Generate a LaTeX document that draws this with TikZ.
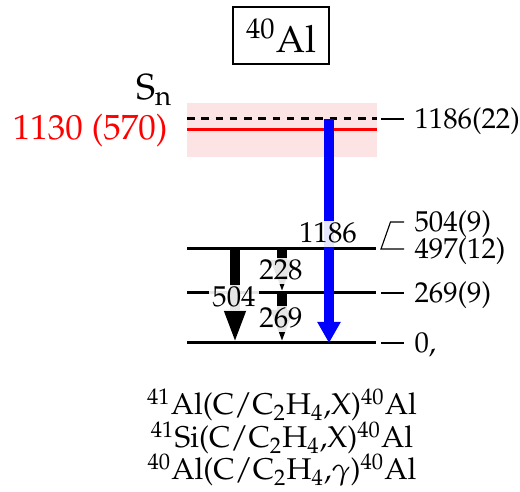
\documentclass[tikz,border=0pt]{standalone}
\usepackage[T1]{fontenc}
\usepackage{mathpazo}
\usetikzlibrary{arrows.meta}
\definecolor{snband}{HTML}{FDE4E4}
\tikzset{
  lvl/.style={line width=1.2pt},
  tick/.style={line width=0.45pt},
  gline/.style={line width=3.8pt,-{Triangle[width=8pt,length=13.2pt]}},
  eline/.style={line width=3.8pt,blue,-{Triangle[width=8.8pt,length=8.4pt]}},
  glab/.style={fill=white,fill opacity=0.9,text opacity=1,inner xsep=1.5pt,inner ysep=1pt,text depth=0.6pt,anchor=base,font=\fontsize{11.5}{13}\selectfont},
  elab/.style={anchor=base west,inner sep=0pt,font=\fontsize{11.5}{13}\selectfont},
}
\begin{document}
\begin{tikzpicture}[x=0.4pt,y=-0.4pt]
\useasboundingbox (0,0) rectangle (520,492);
\node[draw,line width=0.5pt,minimum width=38.4pt,minimum height=22.8pt,font=\fontsize{15}{18}\selectfont] (title) at (281,35.5) {$^{40}$Al};
\fill[snband] (187,103) rectangle (377,157);
\coordinate (snl) at (187,119);
\coordinate (snr) at (377,119);
\coordinate (rl) at (187,130);
\coordinate (rr) at (377,130);
\draw[lvl,dash pattern=on 3pt off 2.7pt] (snl) -- (snr);
\draw[lvl,red] (rl) -- (rr);
\node[anchor=base east,inner sep=0pt,font=\fontsize{14.5}{17}\selectfont] (sn) at (173,100) {S$_\mathrm{n}$};
\node[anchor=base east,inner sep=0pt,red,font=\fontsize{14}{17}\selectfont] (snval) at (168,140) {1130 (570)};
\foreach \n/\y in {0/343,269/293,497/249} {
  \coordinate (l\n-a) at (187,\y);
  \coordinate (l\n-b) at (376,\y);
  \draw[lvl] (l\n-a) -- (l\n-b);
}
\coordinate (t1186a) at (381,119);
\coordinate (t1186b) at (404,119);
\draw[tick] (t1186a) -- (t1186b);
\node[elab] (e1186) at (414,129) {1186(22)};
\coordinate (t497a) at (381,249);
\coordinate (t497b) at (404,249);
\coordinate (t504m) at (390.5,222);
\coordinate (t504b) at (404,222);
\draw[tick] (t497b) -- (t497a) -- (t504m) -- (t504b);
\node[elab] (e504) at (414,232) {504(9)};
\node[elab] (e497) at (414,259) {497(12)};
\coordinate (t269a) at (381,293);
\coordinate (t269b) at (404,293);
\draw[tick] (t269a) -- (t269b);
\node[elab] (e269) at (414,303) {269(9)};
\coordinate (t0a) at (381,343);
\coordinate (t0b) at (404,343);
\draw[tick] (t0a) -- (t0b);
\node[elab] (e0) at (414,353) {0,};
\coordinate (g504a) at (235,249);
\coordinate (g504b) at (235,343);
\coordinate (g228a) at (282,249);
\coordinate (g228b) at (282,293);
\coordinate (g269a) at (282,293);
\coordinate (g269b) at (282,343);
\coordinate (g1186a) at (329,119);
\coordinate (g1186b) at (329,343);
\draw[gline] (g504a) -- (g504b);
\draw[gline] (g228a) -- (g228b);
\draw[gline] (g269a) -- (g269b);
\draw[eline] (g1186a) -- (g1186b);
\node[glab] (lab1186) at (328,243) {1186};
\node[glab] (lab504) at (234,307) {504};
\node[glab] (lab228) at (281,280) {228};
\node[glab] (lab269) at (281,328) {269};
\node[anchor=base,font=\fontsize{12}{14}\selectfont] (rx1) at (282,415) {$^{41}$Al(C/C$_2$H$_4$,X)$^{40}$Al};
\node[anchor=base,font=\fontsize{12}{14}\selectfont] (rx2) at (282,448) {$^{41}$Si(C/C$_2$H$_4$,X)$^{40}$Al};
\node[anchor=base,font=\fontsize{12}{14}\selectfont] (rx3) at (282,480) {$^{40}$Al(C/C$_2$H$_4$,$\gamma$)$^{40}$Al};
\end{tikzpicture}
\end{document}
